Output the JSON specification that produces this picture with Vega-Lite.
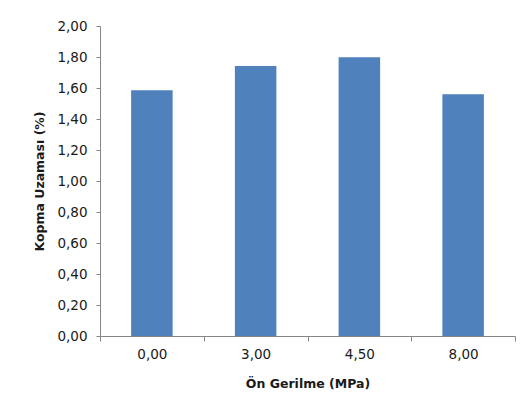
{
  "$schema": "https://vega.github.io/schema/vega-lite/v6.json",
  "width": 415,
  "height": 310,
  "autosize": {"type": "none"},
  "padding": {"left": 100, "top": 26, "right": 11, "bottom": 76},
  "background": "white",
  "config": {
    "view": {"stroke": null},
    "font": "DejaVu Sans",
    "axis": {
      "domainColor": "#868686",
      "tickColor": "#868686",
      "labelColor": "#1a1a1a",
      "titleColor": "#1a1a1a",
      "grid": false,
      "labelFont": "DejaVu Sans",
      "titleFont": "DejaVu Sans",
      "labelFontSize": 13.5,
      "titleFontSize": 12.5,
      "titleFontWeight": "bold"
    }
  },
  "data": {
    "values": [
      {"ongerilme": "0,00", "uzama": 1.585},
      {"ongerilme": "3,00", "uzama": 1.742},
      {"ongerilme": "4,50", "uzama": 1.798},
      {"ongerilme": "8,00", "uzama": 1.56}
    ]
  },
  "mark": {"type": "bar", "color": "#4F81BD", "width": {"band": 0.4}},
  "encoding": {
    "x": {
      "field": "ongerilme",
      "type": "nominal",
      "sort": null,
      "scale": {"paddingInner": 0, "paddingOuter": 0},
      "axis": {
        "title": "Ön Gerilme (MPa)",
        "labelAngle": 0,
        "tickBand": "extent",
        "tickSize": 5,
        "labelPadding": 6,
        "titlePadding": 17
      }
    },
    "y": {
      "field": "uzama",
      "type": "quantitative",
      "scale": {"domain": [0, 2], "nice": false},
      "axis": {
        "title": "Kopma Uzaması (%)",
        "values": [0, 0.2, 0.4, 0.6, 0.8, 1, 1.2, 1.4, 1.6, 1.8, 2],
        "labelExpr": "replace(format(datum.value, '.2f'), '.', ',')",
        "tickSize": 4,
        "labelPadding": 9,
        "titlePadding": 10
      }
    }
  }
}
